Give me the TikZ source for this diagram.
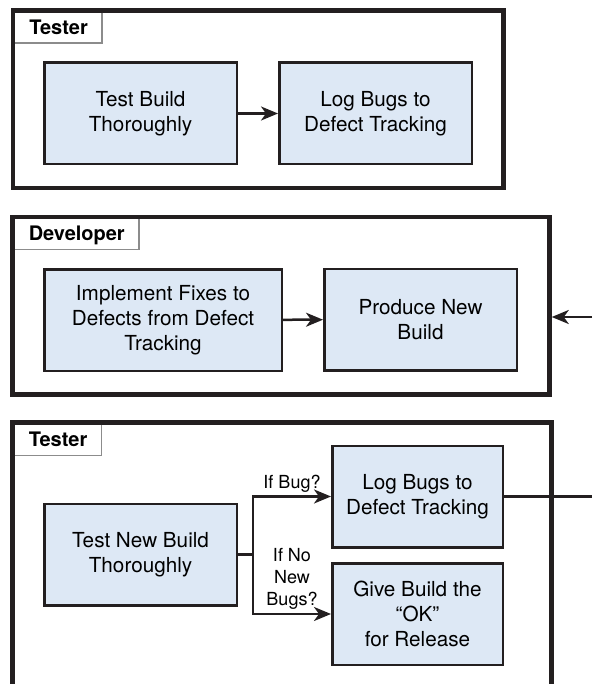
\documentclass[tikz,border=0pt]{standalone}
\usepackage{fontspec}
\setmainfont{TeX Gyre Heros}
\usepackage{xcolor}
\usepackage{tikz}
\usetikzlibrary{arrows.meta, positioning, calc}

\definecolor{boxblue}{RGB}{221,232,245}
\definecolor{inkdark}{RGB}{35,31,32}

\tikzset{
    lane/.style={draw=inkdark, line width=4.5pt, inner sep=0pt},
    lanetab/.style={anchor=north west, inner xsep=14pt, inner ysep=0pt, outer sep=0pt,
        minimum height=30.5pt, text height=15pt, text depth=2pt,
        font=\fontsize{20}{24}\selectfont\bfseries},
    tabline/.style={draw=black!45, line width=1.5pt},
    stepbox/.style={draw=inkdark, line width=2.5pt, fill=boxblue, align=center,
        minimum width=192.5pt, minimum height=101.5pt, inner sep=0pt,
        font=\fontsize{20.7}{25}\selectfont},
    flow/.style={draw=inkdark, line width=2.5pt},
    cond/.style={font=\fontsize{18}{22}\selectfont, align=center, inner sep=3pt}
}

\begin{document}
\begin{tikzpicture}[x=1pt, y=-1pt, >={Stealth[length=17pt, width=14pt, inset=5pt]}]
    \path[use as bounding box, clip] (0,0) rectangle (592,684);

    % Lanes
    \node[lane, minimum width=490.5pt, minimum height=177.5pt] (test1) at (258.25,99.25) {};
    \node[lane, minimum width=537pt, minimum height=177.5pt] (dev) at (281,305.75) {};
    \node[lane, minimum width=539pt, minimum height=337.5pt] (test2) at (282,591.25) {};

    % Lane tabs
    \node[lanetab] (test1tab) at ([shift={(4.5pt,-4.5pt)}]test1.north west) {Tester};
    \draw[tabline] (test1tab.north east) |- (test1tab.south west);
    \node[lanetab] (devtab) at ([shift={(4.5pt,-4.5pt)}]dev.north west) {Developer};
    \draw[tabline] (devtab.north east) |- (devtab.south west);
    \node[lanetab] (test2tab) at ([shift={(4.5pt,-4.5pt)}]test2.north west) {Tester};
    \draw[tabline] (test2tab.north east) |- (test2tab.south west);

    % First test round
    \node[stepbox] (build) at (140.5,113.5) {Test Build\\Thoroughly};
    \node[stepbox] (logA) at (375.5,113.5) {Log Bugs to\\Defect Tracking};
    \draw[flow, ->] (build) -- (logA);

    % Developer
    \node[stepbox, minimum width=237.5pt] (fixes) at (163,320) {Implement Fixes to\\Defects from Defect\\Tracking};
    \node[stepbox] (produce) at (420.5,319.5) {Produce New\\Build};
    \draw[flow, ->] (fixes) -- (produce);

    % Second test round
    \node[stepbox] (retest) at (140.5,554.5) {Test New Build\\Thoroughly};
    \node[stepbox, minimum width=170.5pt] (logB) at (417.5,496.5) {Log Bugs to\\Defect Tracking};
    \node[stepbox, minimum width=170.5pt] (okay) at (417.5,614) {Give Build the\\``OK''\\for Release};
    \draw[flow, ->] (retest.east) -- ++(15,0) |- (logB.west) node[cond, above, pos=0.75] {If Bug?};
    \draw[flow, ->] (retest.east) -- ++(15,0) |- (okay.west) node[cond, above, pos=0.75] {If No\\New\\Bugs?};

    % Loop back off the page edge
    \coordinate (outB) at (592,496.5);
    \coordinate (inDev) at (592,317);
    \draw[flow] (logB.east) -- (outB);
    \draw[flow, ->] (inDev) -- (dev.east |- inDev);
\end{tikzpicture}
\end{document}
